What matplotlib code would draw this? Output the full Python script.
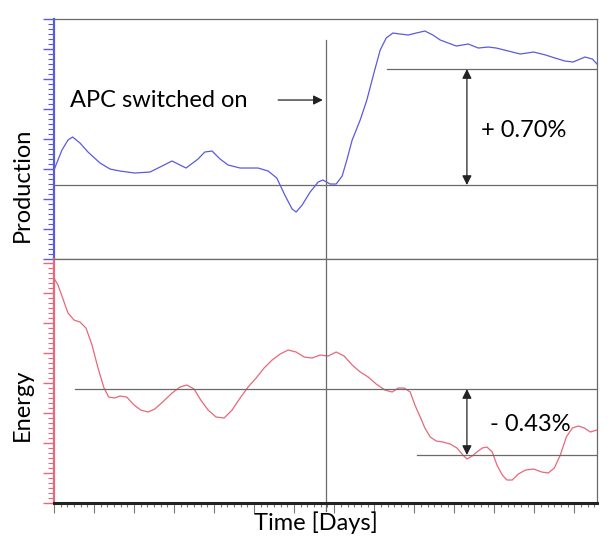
import numpy as np
import matplotlib as mpl
mpl.use('Agg')
import matplotlib.pyplot as plt
from matplotlib.ticker import MultipleLocator, NullFormatter

mpl.rcParams.update({'font.family': ['Lato', 'DejaVu Sans'], 'font.size': 17})

# time axis in days, values in relative units
t_prod = [0.0, 1.2, 2.1, 2.8, 3.9, 5.1, 6.9, 8.4, 9.9, 12.1, 14.4, 15.9, 17.7, 18.9,
          19.8, 21.6, 22.6, 23.7, 24.9, 26.1, 27.9, 30.6, 32.1, 33.4, 34.6, 35.7,
          36.3, 37.2, 38.4, 39.6, 40.3, 41.4, 42.3, 43.2, 43.9, 44.7, 45.9, 46.9,
          48.0, 48.9, 49.8, 50.8, 51.9, 53.1, 54.3, 55.6, 56.8, 57.9, 59.1, 60.3,
          62.1, 63.6, 65.1, 66.3, 68.1, 69.9, 71.9, 73.7, 75.1, 76.6, 77.8, 79.6,
          80.7, 81.4]
production = [8.9, 10.9, 11.9, 12.2, 11.6, 10.7, 9.6, 9.0, 8.8, 8.6, 8.7, 9.2, 9.8, 9.4,
              9.1, 10.0, 10.7, 10.8, 10.0, 9.4, 9.1, 9.1, 8.8, 8.1, 6.4, 5.0,
              4.7, 5.4, 6.7, 7.7, 7.9, 7.5, 7.5, 8.3, 9.9, 11.9, 13.9, 15.9,
              18.7, 20.9, 22.1, 22.6, 22.5, 22.4, 22.6, 22.8, 22.4, 21.9, 21.6, 21.3,
              21.5, 21.1, 21.2, 21.1, 20.8, 20.5, 20.7, 20.4, 20.1, 19.8, 19.7, 20.2,
              20.0, 19.5]

t_energy = [0.0, 0.6, 1.3, 2.1, 3.0, 3.9, 4.8, 5.7, 6.6, 7.5, 8.2, 9.1, 9.9, 10.9,
            12.0, 13.0, 14.1, 15.1, 16.3, 17.7, 18.9, 19.9, 21.0, 22.0, 23.1, 24.3,
            25.5, 26.7, 27.9, 29.1, 30.3, 31.5, 32.7, 33.9, 35.1, 36.3, 37.5, 38.7,
            39.9, 41.1, 42.3, 43.5, 44.7, 45.9, 47.1, 48.3, 49.6, 50.7, 51.6, 52.5,
            53.4, 54.1, 54.9, 55.6, 56.4, 57.3, 58.3, 59.4, 60.4, 61.3, 61.9, 62.7,
            63.4, 64.2, 64.9, 65.7, 66.4, 67.2, 67.9, 68.7, 69.6, 70.7, 71.9, 73.1,
            74.1, 75.0, 75.9, 76.8, 77.7, 78.6, 79.5, 80.4, 81.4]
energy = [22.5, 21.8, 20.5, 19.0, 18.3, 18.1, 17.5, 15.8, 13.5, 11.5, 10.6, 10.5, 10.7, 10.6,
          9.8, 9.3, 9.1, 9.4, 10.1, 11.0, 11.6, 11.8, 11.4, 10.3, 9.3, 8.6,
          8.5, 9.3, 10.5, 11.6, 12.5, 13.5, 14.3, 14.9, 15.3, 15.1, 14.6, 14.5,
          14.8, 14.7, 15.1, 14.7, 13.8, 13.1, 12.6, 11.9, 11.3, 11.1, 11.5, 11.5,
          11.1, 9.8, 8.6, 7.5, 6.6, 6.2, 6.1, 5.9, 5.5, 4.8, 4.4, 4.7,
          5.1, 5.5, 5.6, 5.1, 3.8, 2.8, 2.3, 2.3, 2.9, 3.3, 3.4, 3.1,
          3.0, 3.5, 4.8, 6.6, 7.5, 7.7, 7.5, 7.1, 7.3]

t_switch = 40.8
prod_before, prod_after = 7.4, 19.0
energy_before, energy_after = 11.4, 4.8

BLUE = '#5a5ae0'; RED = '#e8677a'; GREY = '#6a6a6a'
XMAX = 81.4

fig = plt.figure(figsize=(6.12, 5.53), dpi=100, facecolor='white')
ax1 = fig.add_axes([0.0882, 0.5316, 0.8873, 0.4340])
ax2 = fig.add_axes([0.0882, 0.0904, 0.8873, 0.4412])

for ax, col, ymax in ((ax1, BLUE, 24.0), (ax2, RED, 24.4)):
    ax.set_xlim(0, XMAX); ax.set_ylim(0, ymax)
    for s in ('top', 'right', 'bottom'):
        ax.spines[s].set_color(GREY); ax.spines[s].set_linewidth(0.9)
    ax.spines['left'].set_color(col); ax.spines['left'].set_linewidth(1.6)
    ax.yaxis.set_major_locator(MultipleLocator(3))
    ax.yaxis.set_minor_locator(MultipleLocator(0.5))
    ax.yaxis.set_major_formatter(NullFormatter())
    ax.tick_params(axis='y', which='major', length=8, color=col, width=1.0, direction='out')
    ax.tick_params(axis='y', which='minor', length=4, color=col, width=0.8, direction='out')

ax1.set_xticks([]); ax1.tick_params(axis='x', which='both', bottom=False)
ax2.spines['bottom'].set_color('#222'); ax2.spines['bottom'].set_linewidth(2.2)
ax2.xaxis.set_major_locator(MultipleLocator(6))
ax2.xaxis.set_minor_locator(MultipleLocator(1))
ax2.xaxis.set_major_formatter(NullFormatter())
ax2.tick_params(axis='x', which='major', length=7, color='#777', width=0.8)
ax2.tick_params(axis='x', which='minor', length=3, color='#777', width=0.8)

# curves
ax1.plot(t_prod, production, color=BLUE, lw=0.9)
ax2.plot(t_energy, energy, color=RED, lw=0.9)

# reference levels
ax1.plot([0, XMAX], [prod_before] * 2, color=GREY, lw=0.9)
ax1.plot([49.9, XMAX], [prod_after] * 2, color=GREY, lw=0.9)
ax2.plot([3.1, XMAX], [energy_before] * 2, color=GREY, lw=0.9)
ax2.plot([54.4, XMAX], [energy_after] * 2, color=GREY, lw=0.9)

arr = dict(arrowstyle='<|-|>', color='#222', lw=0.9, mutation_scale=14, shrinkA=0, shrinkB=0)
ax1.annotate('', xy=(61.9, prod_after), xytext=(61.9, prod_before), arrowprops=arr)
ax2.annotate('', xy=(61.9, energy_before), xytext=(61.9, energy_after), arrowprops=arr)
ax1.text(64.0, 12.9, '+ 0.70%', va='center', ha='left')
ax2.text(65.4, 7.9, '- 0.43%', va='center', ha='left')

# switch-on marker, runs through both panels
ax2.plot([t_switch, t_switch], [-0.8, 46.3], color=GREY, lw=0.9, clip_on=False)
ax1.text(2.4, 15.9, 'APC switched on', va='center', ha='left')
ax1.annotate('', xy=(40.3, 15.9), xytext=(33.6, 15.9),
             arrowprops=dict(arrowstyle='-|>', color='#222', lw=0.9, mutation_scale=14,
                             shrinkA=0, shrinkB=0))

fig.text(22 / 612, 1 - 185 / 553, 'Production', rotation=90, ha='center', va='center')
fig.text(22 / 612, 1 - 405 / 553, 'Energy', rotation=90, ha='center', va='center')
fig.text(316 / 612, 1 - 523 / 553, 'Time [Days]', ha='center', va='center')

fig.savefig('out.png', dpi=100, facecolor='white')
plt.close(fig)
